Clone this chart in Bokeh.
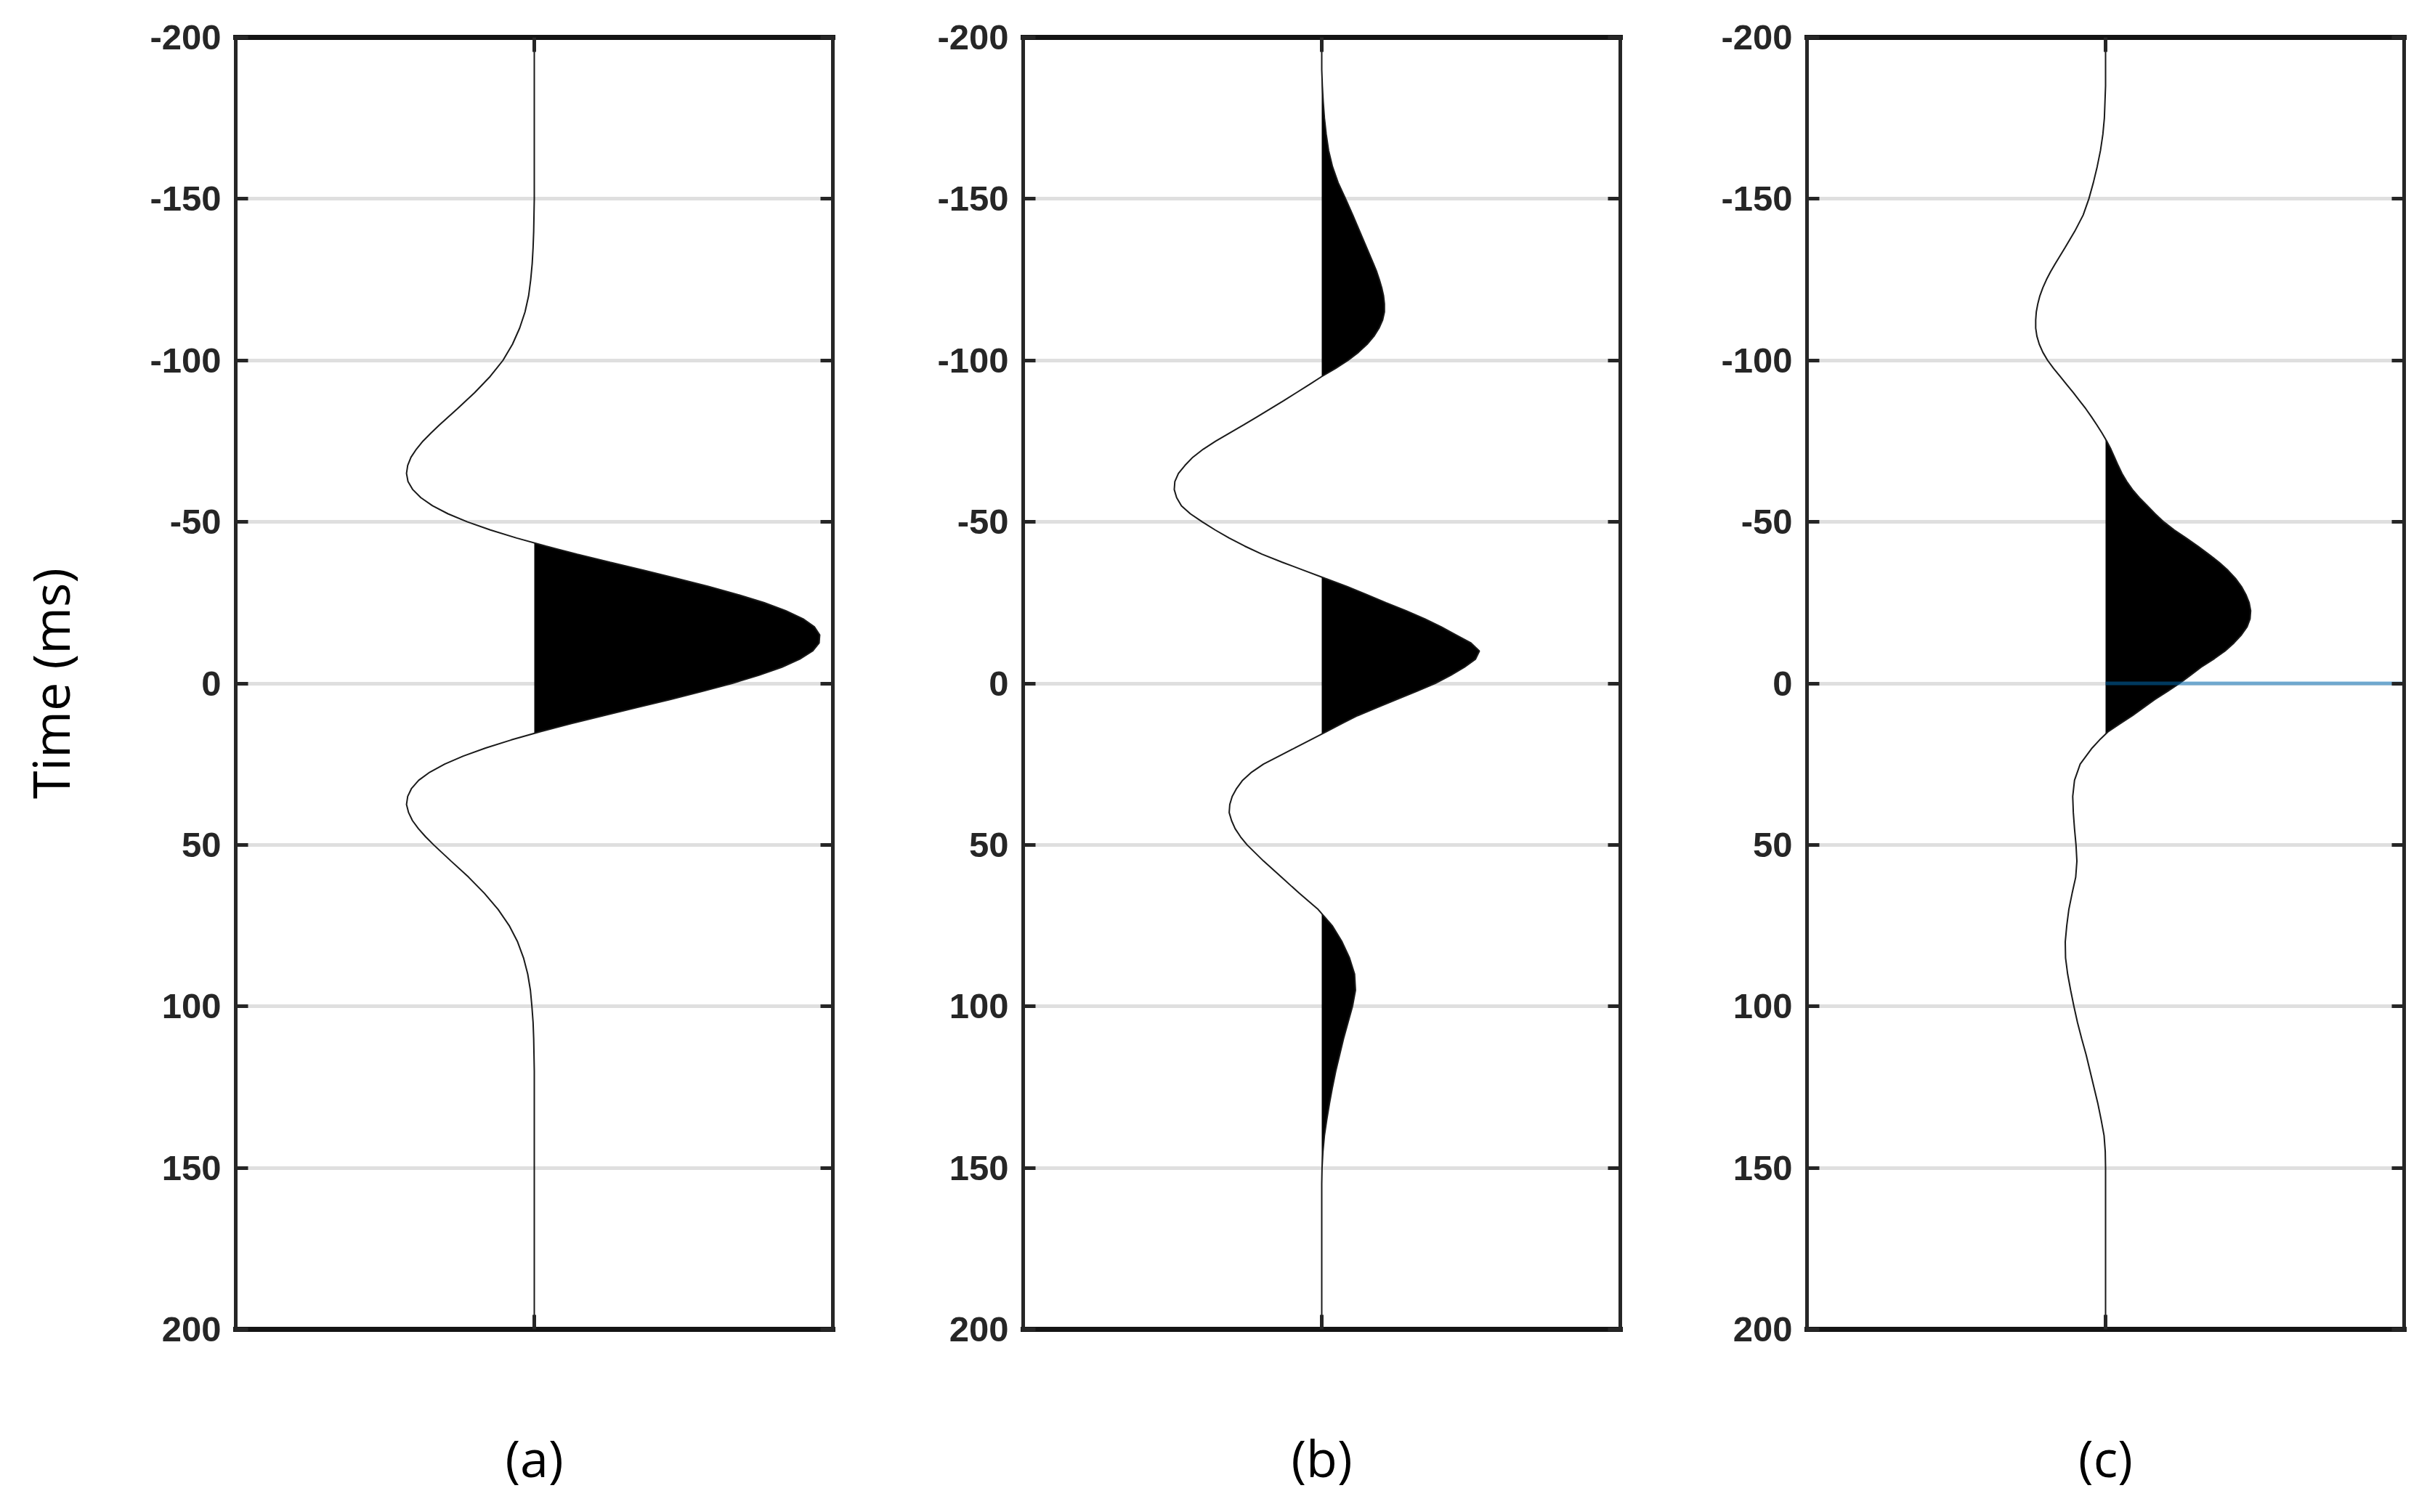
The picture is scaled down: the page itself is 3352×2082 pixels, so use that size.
from bokeh.plotting import figure
from bokeh.models import Range1d, LinearAxis, FixedTicker
from bokeh.layouts import row
from bokeh.embed import file_html
from bokeh.resources import INLINE

# ---------------- data ----------------
# panel (a): time samples (ms) and trace amplitude
TIME_A = list(range(-200, -79, 5)) + [k * 2.5 for k in range(-31, 20)] + list(range(50, 201, 5))
TRACE_A = [
    0, 0, 0, 0, 0, 0, 0, 0, 0, 0, 0,
    -0.001, -0.002, -0.004, -0.007, -0.012, -0.019, -0.031, -0.049, -0.073, -0.105,
    -0.148, -0.200, -0.258, -0.318,
    -0.346, -0.373, -0.395, -0.413, -0.424, -0.428, -0.423, -0.407, -0.380, -0.341,
    -0.289, -0.224, -0.147, -0.059, 0.039, 0.144, 0.254, 0.366, 0.477, 0.583,
    0.681, 0.769, 0.842, 0.900, 0.938, 0.956, 0.954, 0.932, 0.889, 0.829,
    0.752, 0.663, 0.562, 0.455, 0.343, 0.231, 0.122, 0.018, -0.077, -0.163,
    -0.238, -0.300, -0.350, -0.387, -0.411, -0.424, -0.428, -0.421, -0.408, -0.388,
    -0.364,
    -0.337, -0.279, -0.220, -0.167, -0.121, -0.084, -0.056, -0.036, -0.022, -0.013,
    -0.008, -0.004, -0.002, -0.001,
    0, 0, 0, 0, 0, 0, 0, 0, 0, 0, 0, 0, 0, 0, 0, 0, 0,
]

# panel (b)
TIME_B = list(range(-200, -130, 5)) + [k * 2.5 for k in range(-52, 21)] + list(range(55, 201, 5))
TRACE_B = [
    0, 0, 0, 0.002, 0.005, 0.009, 0.015, 0.023, 0.036, 0.055, 0.080, 0.104, 0.127, 0.150,
    0.173, 0.184, 0.193, 0.201, 0.207, 0.210, 0.210, 0.204, 0.192, 0.175,
    0.152, 0.123, 0.088, 0.046, 0.0, -0.042, -0.085, -0.128, -0.172, -0.217,
    -0.262, -0.309, -0.355, -0.397, -0.432, -0.458, -0.480, -0.492, -0.494, -0.486,
    -0.470, -0.440, -0.400, -0.357, -0.310, -0.258, -0.200, -0.132, -0.060, 0.012,
    0.085, 0.150, 0.215, 0.282, 0.345, 0.400, 0.450, 0.500, 0.528, 0.515,
    0.478, 0.432, 0.380, 0.317, 0.250, 0.185, 0.120, 0.066, 0.015, -0.038,
    -0.090, -0.143, -0.195, -0.235, -0.265, -0.285, -0.300, -0.308, -0.310, -0.302,
    -0.290, -0.272, -0.250,
    -0.195, -0.135, -0.075, -0.012, 0.035, 0.068, 0.093, 0.110, 0.113, 0.103,
    0.088, 0.073, 0.060, 0.047, 0.036, 0.026, 0.017, 0.009, 0.004, 0.001,
    0, 0, 0, 0, 0, 0, 0, 0, 0, 0,
]

# panel (c)
TIME_C = list(range(-200, -130, 5)) + [k * 2.5 for k in range(-52, 9)] + list(range(25, 201, 5))
TRACE_C = [
    0, 0, 0, 0, -0.002, -0.004, -0.009, -0.017, -0.028, -0.041, -0.056, -0.075, -0.103, -0.135,
    -0.168, -0.184, -0.198, -0.210, -0.220, -0.227, -0.232, -0.234, -0.234, -0.230,
    -0.222, -0.210, -0.194, -0.174, -0.152, -0.130, -0.108, -0.087, -0.066, -0.047,
    -0.029, -0.012, 0.004, 0.018, 0.030, 0.042, 0.055, 0.071, 0.090, 0.113,
    0.140, 0.166, 0.195, 0.230, 0.270, 0.309, 0.345, 0.380, 0.410, 0.435,
    0.455, 0.470, 0.481, 0.486, 0.484, 0.474, 0.455, 0.430, 0.400, 0.362,
    0.320, 0.284, 0.248, 0.207, 0.165, 0.127, 0.090, 0.048, 0.008, -0.020,
    -0.045,
    -0.085, -0.104, -0.110, -0.108, -0.104, -0.099, -0.096, -0.100, -0.112, -0.123,
    -0.130, -0.135, -0.134, -0.127, -0.117, -0.106, -0.094, -0.080, -0.065, -0.052,
    -0.039, -0.026, -0.015, -0.005, -0.001,
    0, 0, 0, 0, 0, 0, 0, 0, 0, 0, 0,
]

TIMES = [TIME_A, TIME_B, TIME_C]
TRACES = [TRACE_A, TRACE_B, TRACE_C]
PANEL_LABELS = ["(a)", "(b)", "(c)"]
Y_LABEL = "Time (ms)"
Y_TICKS = [-200, -150, -100, -50, 0, 50, 100, 150, 200]
Y_TICK_LABELS = ["-200", "-150", "-100", "-50", "0", "50", "100", "150", "200"]
X_TICKS = [0]
TIME_RANGE = (200, -200)
AMP_RANGE = (-1, 1)
MARKER_TIME = [0]          # blue reference line in panel (c)
MARKER_AMP_START = [0]
MARKER_AMP_END = [1]

# ---------------- styling ----------------
DARK = "#262626"
FRAME_W = 822
FRAME_H = 1779
TOP = 51
FIG_H = 2060
LEFT_BORDERS = [324, 242, 237]
RIGHT_BORDER = 20
TICK_FONT = "Liberation Sans"
LABEL_FONT = "Open Sans"


def fill_positive(t, v):
    tt, vv = [], []
    for i in range(len(t)):
        if i > 0 and v[i - 1] != 0 and v[i] != 0 and ((v[i - 1] > 0) != (v[i] > 0)):
            f = v[i - 1] / (v[i - 1] - v[i])
            tt.append(t[i - 1] + f * (t[i] - t[i - 1]))
            vv.append(0.0)
        tt.append(t[i])
        vv.append(v[i])
    return tt, [max(x, 0.0) for x in vv]


def style_axis(ax, line_w, tick_len, line_color=DARK):
    ax.axis_line_color = line_color
    ax.axis_line_width = line_w
    ax.axis_line_cap = "square"
    ax.major_tick_in = tick_len
    ax.major_tick_out = 0
    ax.major_tick_line_color = DARK
    ax.major_tick_line_width = 5
    ax.minor_tick_line_color = None
    ax.major_label_text_font = TICK_FONT
    ax.major_label_text_font_style = "bold"
    ax.major_label_text_font_size = "49px"
    ax.major_label_text_color = DARK


figs = []
for i, (tms, trace) in enumerate(zip(TIMES, TRACES)):
    left_b = LEFT_BORDERS[i]
    p = figure(
        width=left_b + FRAME_W + RIGHT_BORDER, height=FIG_H,
        x_range=Range1d(*AMP_RANGE), y_range=Range1d(*TIME_RANGE),
        output_backend="svg", toolbar_location=None,
        min_border_left=left_b, min_border_right=RIGHT_BORDER,
        min_border_top=TOP, min_border_bottom=FIG_H - TOP - FRAME_H,
    )
    p.outline_line_color = None
    p.background_fill_color = "white"
    p.border_fill_color = "white"

    # grid
    p.xgrid.visible = False
    p.ygrid.ticker = FixedTicker(ticks=Y_TICKS)
    p.ygrid.grid_line_color = "#dfdfdf"
    p.ygrid.grid_line_width = 5

    blank_y = {t: "" for t in Y_TICKS}
    blank_x = {t: "" for t in X_TICKS}

    # left axis
    ly = p.yaxis[0]
    ly.ticker = FixedTicker(ticks=Y_TICKS)
    style_axis(ly, 5, 17)
    ly.major_label_overrides = dict(zip(Y_TICKS, Y_TICK_LABELS))
    ly.major_label_standoff = 20
    if i == 0:
        ly.axis_label = Y_LABEL
        ly.axis_label_text_font = LABEL_FONT
        ly.axis_label_text_font_style = "normal"
        ly.axis_label_text_font_size = "70px"
        ly.axis_label_text_color = "black"
        ly.axis_label_standoff = 86

    # right axis
    ry = LinearAxis(ticker=FixedTicker(ticks=Y_TICKS))
    style_axis(ry, 5, 17)
    ry.major_label_overrides = blank_y
    ry.major_label_standoff = 0
    p.add_layout(ry, "right")

    # bottom axis with panel caption
    bx = p.xaxis[0]
    bx.ticker = FixedTicker(ticks=X_TICKS)
    style_axis(bx, 7, 20, "#141414")
    bx.major_label_overrides = blank_x
    bx.major_label_standoff = 0
    bx.axis_label = PANEL_LABELS[i]
    bx.axis_label_text_font = LABEL_FONT
    bx.axis_label_text_font_style = "normal"
    bx.axis_label_text_font_size = "70px"
    bx.axis_label_text_color = "black"
    bx.axis_label_standoff = 128

    # top axis
    tx = LinearAxis(ticker=FixedTicker(ticks=X_TICKS))
    style_axis(tx, 7, 20, "#141414")
    tx.major_label_overrides = blank_x
    tx.major_label_standoff = 0
    p.add_layout(tx, "above")

    # variable-area fill + wiggle trace
    ft, fv = fill_positive(tms, trace)
    p.harea(x1=[0.0] * len(ft), x2=fv, y=ft, fill_color="black")
    p.line(x=trace, y=tms, line_color="#1a1a1a", line_width=2)

    if i == 2:
        p.segment(x0=MARKER_AMP_START, y0=MARKER_TIME, x1=MARKER_AMP_END, y1=MARKER_TIME,
                  line_color="#0072BD", line_alpha=0.5, line_width=5)

    figs.append(p)

layout = row(*figs, spacing=0)
open("out.html", "w").write(file_html(layout, INLINE))
